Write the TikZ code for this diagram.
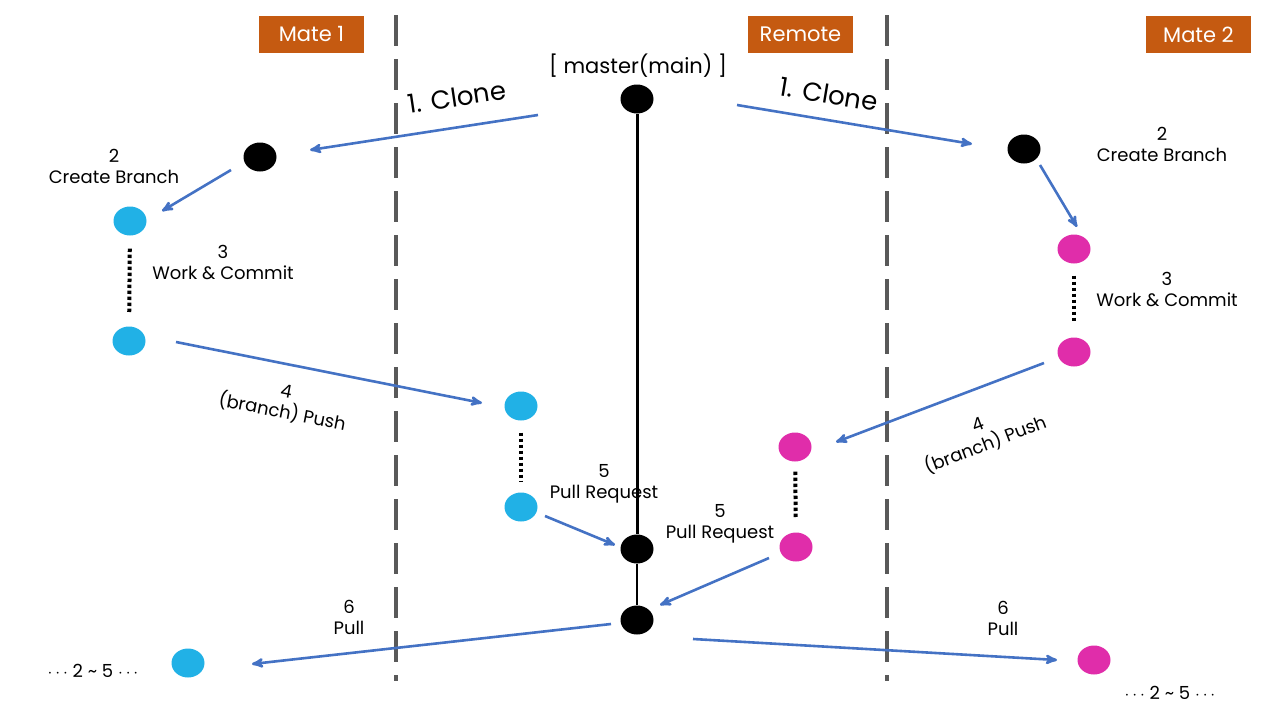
\documentclass[tikz,border=0pt]{standalone}
\usepackage{fontspec}
\setmainfont{Poppins}
\usepackage{xcolor}
\usetikzlibrary{arrows, shapes.geometric}
\definecolor{boxorange}{HTML}{C55A11}
\definecolor{flowblue}{HTML}{4472C4}
\definecolor{matecyan}{HTML}{21B1E6}
\definecolor{matepink}{HTML}{E02DAA}
\definecolor{sepgray}{HTML}{595959}
\begin{document}
\begin{tikzpicture}[x=1pt, y=-1pt, >=stealth',
    commit/.style={ellipse, minimum width=33pt, minimum height=29pt, inner sep=0pt},
    flow/.style={->, draw=flowblue, line width=2.6pt},
    work/.style={line width=4pt, dash pattern=on 3.3pt off 2.7pt},
    sidebox/.style={fill=boxorange, text=white, minimum width=105pt, minimum height=37pt, inner sep=0pt, font=\fontsize{21}{24}\selectfont},
    steplabel/.style={align=center, inner sep=0pt, font=\fontsize{18}{21}\selectfont}]
            \useasboundingbox (0,0) rectangle (1280,720);
            % separators
            \draw[sepgray, line width=3.5pt, dash pattern=on 31pt off 13pt] (396,15) -- (396,681);
            \draw[sepgray, line width=3.5pt, dash pattern=on 31pt off 13pt] (887,15) -- (887,681);
            \node[sidebox] (mate1) at (311.5,34.5) {Mate 1};
            \node[sidebox] (remote) at (800.5,34.5) {Remote};
            \node[sidebox] (mate2) at (1198.5,34.5) {Mate 2};
            % remote
            \node[commit, fill=black] (master) at (637,99) {};
            \node[commit, fill=black] (merge1) at (637,549) {};
            \node[commit, fill=black] (merge2) at (637,620) {};
            \node[commit, fill=matecyan] (ra) at (521,406) {};
            \node[commit, fill=matecyan] (rb) at (521,507) {};
            \node[commit, fill=matepink] (rc) at (795,447) {};
            \node[commit, fill=matepink] (rd) at (796,547) {};
            \draw[line width=3pt] (master) -- (merge1);
            \draw[line width=2.8pt] (merge1) -- (merge2);
            \draw[work, shorten <=12pt, shorten >=11pt] (ra) -- (rb);
            \draw[work, shorten <=10pt, shorten >=13pt] (rc) -- (rd);
            \node[font=\fontsize{21}{24}\selectfont] (mastername) at (638,66) {[ master(main) ]};
            % mate 1
            \node[commit, fill=black] (m1root) at (260,157) {};
            \node[commit, fill=matecyan] (m1a) at (130,221) {};
            \node[commit, fill=matecyan] (m1b) at (129,341) {};
            \node[commit, fill=matecyan] (m1pull) at (188,663) {};
            \draw[work, shorten <=13pt, shorten >=14pt] (m1a) -- (m1b);
            % mate 2
            \node[commit, fill=black] (m2root) at (1024,149) {};
            \node[commit, fill=matepink] (m2a) at (1074,249) {};
            \node[commit, fill=matepink] (m2b) at (1074,352) {};
            \node[commit, fill=matepink] (m2pull) at (1094,660) {};
            \draw[work, shorten <=12pt, shorten >=15pt] (m2a) -- (m2b);
            % flows
            \draw[flow] ([shift={(-99,16)}]master.center) -- ([shift={(50,-7)}]m1root.center);
            \draw[flow] ([shift={(100,6)}]master.center) -- ([shift={(-52,-5)}]m2root.center);
            \draw[flow] ([shift={(-29,13)}]m1root.center) -- ([shift={(32,-10)}]m1a.center);
            \draw[flow] ([shift={(16,16)}]m2root.center) -- ([shift={(3,-22)}]m2a.center);
            \draw[flow] ([shift={(47,1)}]m1b.center) -- ([shift={(-39,-3)}]ra.center);
            \draw[flow] ([shift={(-30,11)}]m2b.center) -- ([shift={(41,-5)}]rc.center);
            \draw[flow] ([shift={(24,9)}]rb.center) -- ([shift={(-22,-4)}]merge1.center);
            \draw[flow] ([shift={(-27,11)}]rd.center) -- ([shift={(23,-15)}]merge2.center);
            \draw[flow] ([shift={(-26,4)}]merge2.center) -- ([shift={(64,1)}]m1pull.center);
            \draw[flow] ([shift={(56,19)}]merge2.center) -- ([shift={(-37,0)}]m2pull.center);
            % labels
            \node[font=\fontsize{26}{30}\selectfont, rotate=8.5] (clone1) at (457,97) {1. Clone};
            \node[font=\fontsize{26}{30}\selectfont, rotate=-9.5] (clone2) at (829,94) {1. Clone};
            \node[steplabel] (branch1) at (114,166) {2\\Create Branch};
            \node[steplabel] (branch2) at (1162,144) {2\\Create Branch};
            \node[steplabel] (commit1) at (223,262) {3\\Work \& Commit};
            \node[steplabel] (commit2) at (1167,289) {3\\Work \& Commit};
            \node[steplabel, rotate=-11] (push1) at (284,403) {4\\(branch) Push};
            \node[steplabel, rotate=21] (push2) at (982,436) {4\\(branch) Push};
            \node[steplabel] (pr1) at (604,484) {5\\Pull Request};
            \node[steplabel] (pr2) at (720,524) {5\\Pull Request};
            \node[steplabel] (pull1) at (349,617) {6\\Pull};
            \node[steplabel] (pull2) at (1003,618) {6\\Pull};
            \node[steplabel] (rest1) at (93,671) {$\cdots$ 2 \textasciitilde{} 5 $\cdots$};
            \node[steplabel] (rest2) at (1170,693) {$\cdots$ 2 \textasciitilde{} 5 $\cdots$};
      \end{tikzpicture}
\end{document}
